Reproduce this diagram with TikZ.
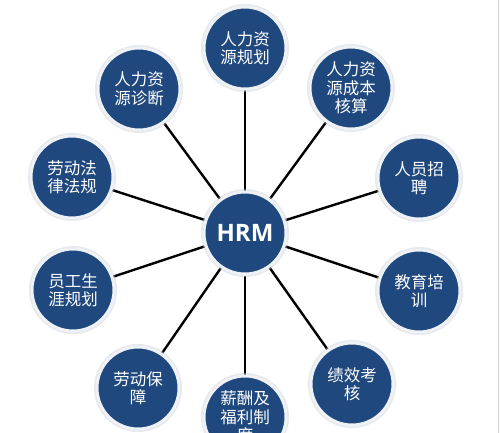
\documentclass[tikz,border=0pt]{standalone}
\usepackage{fontspec}
\newfontfamily\cjk{Noto Sans CJK SC}
\newfontfamily\hrmfont{Open Sans}
\usetikzlibrary{backgrounds}
\definecolor{navy}{HTML}{1F487F}
\definecolor{rim}{HTML}{EEF1F5}
\definecolor{shade}{HTML}{C9CED4}
\tikzset{
  bubble/.style={circle, fill=navy, draw=rim, line width=3pt, minimum size=82pt, inner sep=0pt,
     text=white, align=center, font=\cjk\fontsize{16.5pt}{18.5pt}\selectfont},
  hub/.style={bubble, font=\hrmfont\bfseries\fontsize{24pt}{26pt}\selectfont},
  spoke/.style={draw=black, line width=2.4pt},
  shadowring/.style={circle, fill=shade, minimum size=88pt, inner sep=0pt}
}
\begin{document}
\begin{tikzpicture}[x=1pt,y=-1pt]
\useasboundingbox (0,0) rectangle (500,433);
\clip (0,0) rectangle (500,433);
\draw[gray!35, line width=1pt] (498,0) -- (498,433);
% shadows
\foreach \p in {(245,233),(245,48),(351,88),(419,178),(419,291),(352,384),(245,417),(138,388),(73,290),(72,177),(139,89)}
  \node[shadowring, fill opacity=0.45] at \p {};
\node[hub] (hrm) at (245,233) {HRM};
\node[bubble] (plan) at (245,48) {人力资\\源规划};
\node[bubble] (cost) at (351,88) {人力资\\源成本\\核算};
\node[bubble] (recr) at (419,178) {人员招\\聘};
\node[bubble] (train) at (419,291) {教育培\\训};
\node[bubble] (perf) at (352,384) {绩效考\\核};
\node[bubble] (pay) at (245,417) {薪酬及\\福利制\\度};
\node[bubble] (prot) at (138,388) {劳动保\\障};
\node[bubble] (career) at (73,290) {员工生\\涯规划};
\node[bubble] (law) at (72,177) {劳动法\\律法规};
\node[bubble] (diag) at (139,89) {人力资\\源诊断};
\begin{scope}[on background layer]
\foreach \n in {plan,cost,recr,train,perf,pay,prot,career,law,diag}
  \draw[spoke] (hrm) -- (\n);
\end{scope}
\end{tikzpicture}
\end{document}
